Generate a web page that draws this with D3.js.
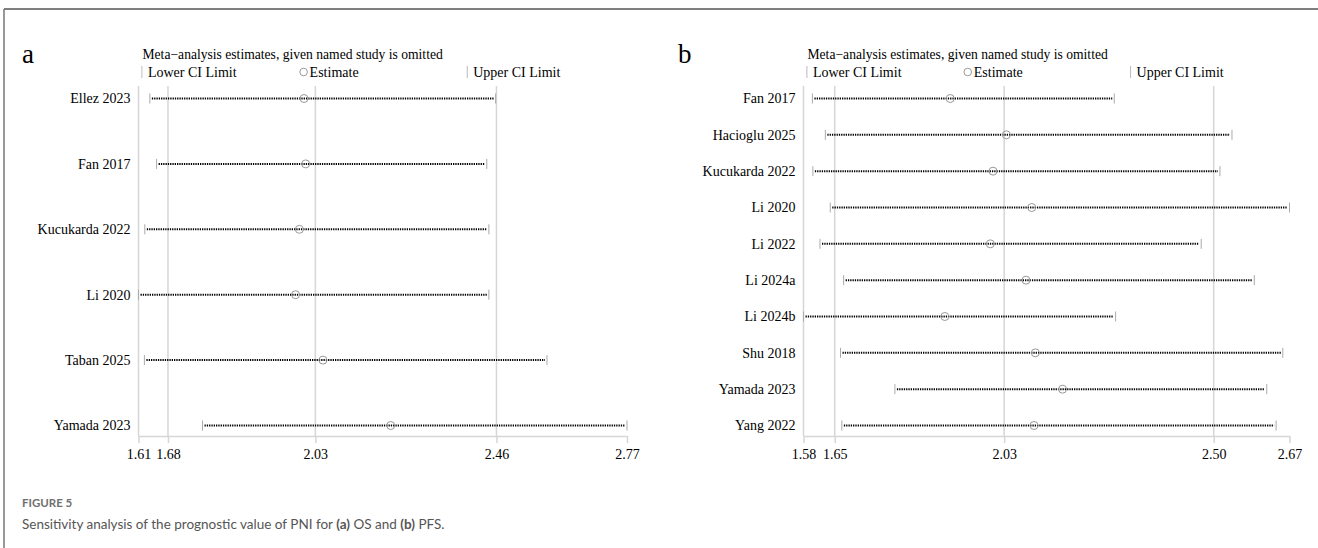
<!DOCTYPE html>
<html>
<head>
<meta charset="utf-8">
<script src="https://cdn.jsdelivr.net/npm/d3@7"></script>
<style>
  body { margin: 0; background: #fff; }
  svg { display: block; }
</style>
</head>
<body>
<div id="chart"></div>
<script>
const width = 1318
const height = 548

// panel a: OS
const studiesA = ["Ellez 2023", "Fan 2017", "Kucukarda 2022", "Li 2020", "Taban 2025", "Yamada 2023"]
const lowerA = [1.637, 1.653, 1.625, 1.61, 1.624, 1.762]
const estA = [2.003, 2.007, 1.992, 1.983, 2.048, 2.209]
const upperA = [2.458, 2.437, 2.442, 2.442, 2.58, 2.77]
const ticksA = [1.61, 1.68, 2.03, 2.46, 2.77]
const gridA = [1.61, 1.68, 2.03, 2.46]

// panel b: PFS
const studiesB = ["Fan 2017", "Hacioglu 2025", "Kucukarda 2022", "Li 2020", "Li 2022",
  "Li 2024a", "Li 2024b", "Shu 2018", "Yamada 2023", "Yang 2022"]
const lowerB = [1.600, 1.629, 1.601, 1.640, 1.617, 1.670, 1.58, 1.663, 1.785, 1.666]
const estB = [1.909, 2.035, 2.005, 2.092, 1.999, 2.079, 1.897, 2.100, 2.161, 2.097]
const upperB = [2.277, 2.541, 2.514, 2.67, 2.472, 2.591, 2.280, 2.655, 2.619, 2.640]
const ticksB = [1.58, 1.65, 2.03, 2.50, 2.67]
const gridB = [1.58, 1.65, 2.03, 2.50]

const serif = "'Liberation Serif', 'Times New Roman', serif"

const svg = d3.select("#chart")
  .append("svg")
  .attr("width", width)
  .attr("height", height)
  .attr("viewBox", [0, 0, width, height])

svg.append("rect").attr("width", width).attr("height", height).attr("fill", "#fff")

// figure frame
svg.append("line")
  .attr("x1", 4).attr("x2", width).attr("y1", 9).attr("y2", 9)
  .attr("stroke", "#555").attr("stroke-width", 1.5)
svg.append("line")
  .attr("x1", 4).attr("x2", 4).attr("y1", 9).attr("y2", height)
  .attr("stroke", "#777").attr("stroke-width", 1.5)

drawPanel({
  letter: "a", letterX: 22,
  studies: studiesA, lower: lowerA, est: estA, upper: upperA,
  ticks: ticksA, grid: gridA,
  x0: 138.5, x1: 627
})

drawPanel({
  letter: "b", letterX: 678,
  studies: studiesB, lower: lowerB, est: estB, upper: upperB,
  ticks: ticksB, grid: gridB,
  x0: 803.5, x1: 1289.5
})

function drawPanel(p){
  const top = 86, bottom = 436
  const x = d3.scaleLinear()
    .domain([p.ticks[0], p.ticks[p.ticks.length - 1]])
    .range([p.x0, p.x1])
  const y = d3.scalePoint()
    .domain(p.studies)
    .range([98.5, 425.5])

  const rows = p.studies.map((s, i) => ({name: s, lo: p.lower[i], est: p.est[i], hi: p.upper[i]}))
  const g = svg.append("g")

  // panel letter
  g.append("text")
    .attr("x", p.letterX).attr("y", 63)
    .attr("font-family", serif).attr("font-size", 27)
    .text(p.letter)

  // legend
  const w = p.x1 - p.x0
  g.append("text")
    .attr("x", p.x0 + 4).attr("y", 59)
    .attr("font-family", serif).attr("font-size", 13.6)
    .text("Meta\u2212analysis estimates, given named study is omitted")

  const legY = 72
  const legItems = [
    {type: "bar", pos: 0.007, label: "Lower CI Limit"},
    {type: "circle", pos: 0.338, label: "Estimate"},
    {type: "bar", pos: 0.673, label: "Upper CI Limit"}
  ]
  legItems.forEach(it => {
    const lx = p.x0 + w * it.pos
    if (it.type === "bar") {
      g.append("line")
        .attr("x1", lx).attr("x2", lx).attr("y1", legY - 6).attr("y2", legY + 6)
        .attr("stroke", "#bbb").attr("stroke-width", 1)
    } else {
      g.append("circle")
        .attr("cx", lx).attr("cy", legY).attr("r", 3.8)
        .attr("fill", "none").attr("stroke", "#999").attr("stroke-width", 1)
    }
    g.append("text")
      .attr("x", lx + 6).attr("y", legY + 5)
      .attr("font-family", serif).attr("font-size", 14)
      .text(it.label)
  })

  // gridlines
  g.selectAll(".grid")
    .data(p.grid)
    .join("line")
      .attr("class", "grid")
      .attr("x1", d => x(d)).attr("x2", d => x(d))
      .attr("y1", top).attr("y2", bottom)
      .attr("stroke", "#d6d6d6").attr("stroke-width", 1.5)

  // x axis
  const axis = g.append("g")
    .attr("transform", `translate(0,${bottom})`)
    .call(d3.axisBottom(x).tickValues(p.ticks).tickFormat(d3.format(".2f")).tickSize(7).tickSizeOuter(0))
  axis.select(".domain").attr("stroke", "#d6d6d6").attr("stroke-width", 1.5)
  axis.selectAll(".tick line").attr("stroke", "#d6d6d6").attr("stroke-width", 1.5)
  axis.selectAll(".tick text")
    .attr("font-family", serif).attr("font-size", 14).attr("fill", "#000")
    .attr("dy", "0.9em")

  // study labels
  g.selectAll(".study")
    .data(rows)
    .join("text")
      .attr("class", "study")
      .attr("x", p.x0 - 8).attr("y", d => y(d.name))
      .attr("dy", "0.35em")
      .attr("text-anchor", "end")
      .attr("font-family", serif).attr("font-size", 14)
      .text(d => d.name)

  // CI dotted lines
  g.selectAll(".ci")
    .data(rows)
    .join("line")
      .attr("class", "ci")
      .attr("x1", d => x(d.lo) + 2).attr("x2", d => x(d.hi) - 2)
      .attr("y1", d => y(d.name)).attr("y2", d => y(d.name))
      .attr("stroke", "#000").attr("stroke-width", 2)
      .attr("stroke-dasharray", "1.3,1")

  // CI limit ticks
  ;["lo", "hi"].forEach(k => {
    g.selectAll(".cap-" + k)
      .data(rows)
      .join("line")
        .attr("class", "cap-" + k)
        .attr("x1", d => x(d[k])).attr("x2", d => x(d[k]))
        .attr("y1", d => y(d.name) - 5).attr("y2", d => y(d.name) + 5)
        .attr("stroke", "#aaa").attr("stroke-width", 1)
  })

  // estimates
  g.selectAll(".est")
    .data(rows)
    .join("circle")
      .attr("class", "est")
      .attr("cx", d => x(d.est)).attr("cy", d => y(d.name))
      .attr("r", 4)
      .attr("fill", "#fff").attr("fill-opacity", 0).attr("stroke", "#999").attr("stroke-width", 1)
}

// caption
svg.append("text")
  .attr("x", 22).attr("y", 507)
  .attr("font-family", "Lato, sans-serif").attr("font-size", 11.5)
  .attr("font-weight", 700).attr("fill", "#707070")
  .text("FIGURE 5")

const cap = svg.append("text")
  .attr("x", 22).attr("y", 529)
  .attr("font-family", "Lato, sans-serif").attr("font-size", 13.5)
  .attr("fill", "#555")
cap.append("tspan").text("Sensitivity analysis of the prognostic value of PNI for ")
cap.append("tspan").attr("font-weight", 700).text("(a)")
cap.append("tspan").text(" OS and ")
cap.append("tspan").attr("font-weight", 700).text("(b)")
cap.append("tspan").text(" PFS.")
</script>
</body>
</html>
